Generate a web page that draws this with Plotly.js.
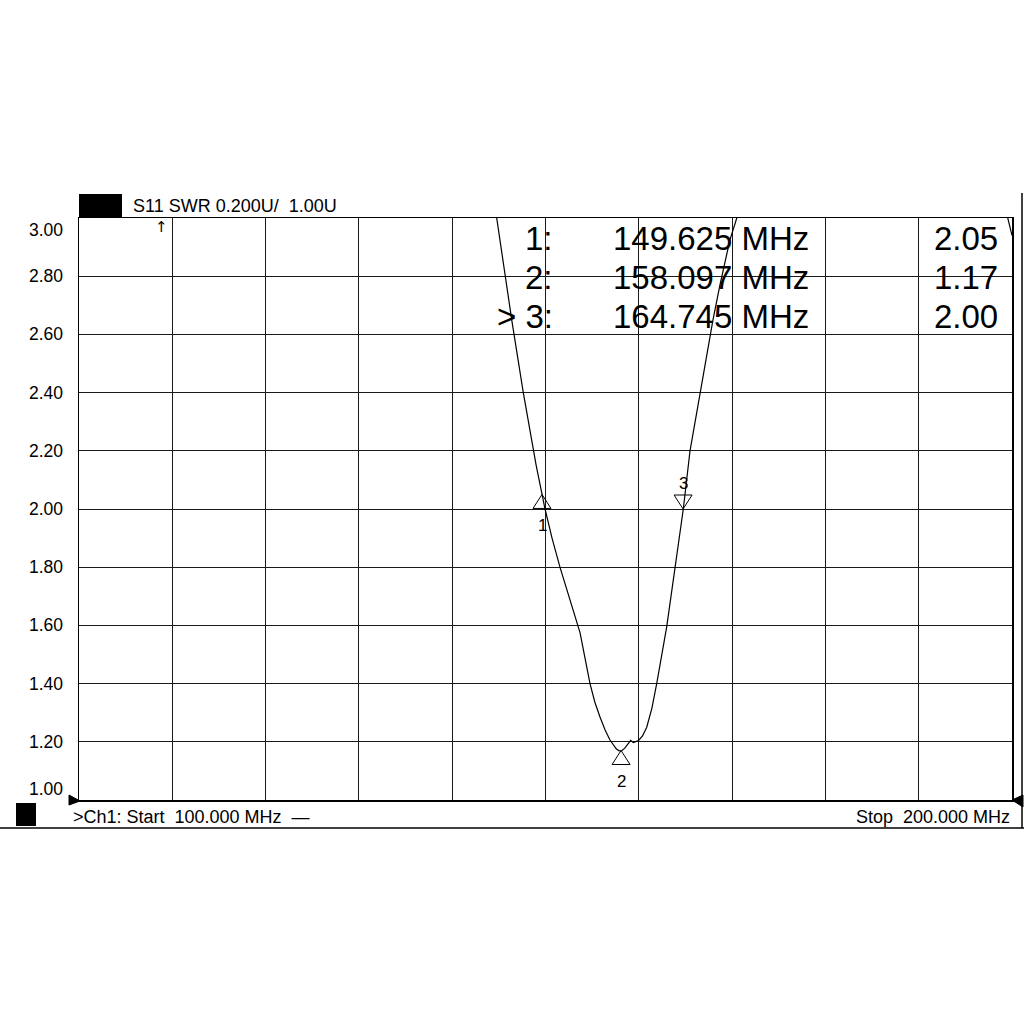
<!DOCTYPE html>
<html>
<head>
<meta charset="utf-8">
<script src="https://cdn.plot.ly/plotly-3.0.1.min.js"></script>
<style>html,body{margin:0;padding:0;background:#fff;}#chart{width:1024px;height:1024px;}</style>
</head>
<body>
<div id="chart"></div>
<script>
// ---- data ----
const freqMHz = [100, 110, 120, 130, 140, 143, 144.77, 146.38, 147.62, 149.0, 149.95, 150.7, 151.55, 152.5, 152.98, 153.70, 154.77, 155.3, 155.84, 156.4, 156.91, 157.3, 157.6, 157.9, 158.2, 158.5, 158.8, 159.13, 159.41, 159.95, 160.4, 160.85, 161.4, 161.92, 162.99, 163.88, 164.77, 165.49, 166.56, 167.34, 167.95, 168.7, 169.77, 170.5, 172, 175, 180, 185, 190, 195, 199.6, 200];
const swr     = [11.0, 10.0, 9.0, 7.0, 4.3, 3.45, 3.00, 2.65, 2.40, 2.15, 2.00, 1.90, 1.80, 1.70, 1.65, 1.575, 1.40, 1.335, 1.285, 1.24, 1.206, 1.187, 1.175, 1.169, 1.170, 1.178, 1.19, 1.205, 1.197, 1.204, 1.22, 1.25, 1.315, 1.40, 1.595, 1.80, 2.00, 2.20, 2.40, 2.535, 2.65, 2.77, 2.925, 3.00, 3.35, 3.9, 4.6, 4.8, 4.4, 3.6, 3.00, 2.94];

const markerIds   = ['1', '2', '3'];
const markerFreq  = [149.625, 158.097, 164.745];
const markerSwr   = [2.05, 1.17, 2.00];
const markerDir   = ['up', 'up', 'down'];
const markerFreqText = ['149.625', '158.097', '164.745'];
const markerValText  = ['2.05', '1.17', '2.00'];
const markerPrefix   = ['1:', '2:', '>\u00a03:'];

const yTickVals = [1.0, 1.2, 1.4, 1.6, 1.8, 2.0, 2.2, 2.4, 2.6, 2.8, 3.0];
const yTickText = ['1.00', '1.20', '1.40', '1.60', '1.80', '2.00', '2.20', '2.40', '2.60', '2.80', '3.00'];

const headerText = 'S11 SWR 0.200U/\u00a0\u00a01.00U';
const startText = '>Ch1: Start\u00a0\u00a0100.000 MHz\u00a0\u00a0\u2014';
const stopText = 'Stop\u00a0\u00a0200.000 MHz';

// ---- build ----
const FONT = 'Liberation Sans, Arial, sans-serif';
const ink = '#000';

const trace = {
  x: freqMHz, y: swr, type: 'scatter', mode: 'lines',
  line: {color: ink, width: 1.2}, hoverinfo: 'skip', showlegend: false
};

const annotations = [];
const shapes = [];

// y tick labels
yTickVals.forEach((v, i) => {
  let ys = 0;
  if (i === yTickVals.length - 1) ys = -12;
  if (i === 0) ys = 11;
  annotations.push({
    xref: 'paper', yref: 'y', x: 0, y: v, xanchor: 'right', yanchor: 'middle',
    xshift: -14, yshift: ys, text: yTickText[i], showarrow: false,
    font: {family: FONT, size: 17.5, color: ink}
  });
});

// header
shapes.push({type: 'rect', xref: 'paper', yref: 'paper', xsizemode: 'pixel', ysizemode: 'pixel',
  xanchor: 0, yanchor: 1, x0: 0, x1: 43, y0: 0, y1: 24, fillcolor: ink, line: {width: 0}});
annotations.push({xref: 'paper', yref: 'paper', x: 0, y: 1, xanchor: 'left', yanchor: 'middle',
  xshift: 52, yshift: 12, text: headerText, showarrow: false, font: {family: FONT, size: 18, color: ink}});

// footer
shapes.push({type: 'rect', xref: 'paper', yref: 'paper', xsizemode: 'pixel', ysizemode: 'pixel',
  xanchor: 0, yanchor: 0, x0: -63, x1: -43, y0: -3, y1: -26, fillcolor: ink, line: {width: 0}});
annotations.push({xref: 'paper', yref: 'paper', x: 0, y: 0, xanchor: 'left', yanchor: 'middle',
  xshift: -8, yshift: -17, text: startText, showarrow: false, font: {family: FONT, size: 18, color: ink}});
annotations.push({xref: 'paper', yref: 'paper', x: 1, y: 0, xanchor: 'right', yanchor: 'middle',
  xshift: 0, yshift: -17, text: stopText, showarrow: false, font: {family: FONT, size: 18, color: ink}});

// reference-level triangles
shapes.push({type: 'path', xref: 'paper', yref: 'paper', xsizemode: 'pixel', ysizemode: 'pixel',
  xanchor: 0, yanchor: 0, path: 'M1,-1L-10,5L-10,-5Z', fillcolor: ink, line: {color: ink, width: 1}});
shapes.push({type: 'path', xref: 'paper', yref: 'paper', xsizemode: 'pixel', ysizemode: 'pixel',
  xanchor: 1, yanchor: 0, path: 'M0,0L11,5L11,-7Z', fillcolor: ink, line: {color: ink, width: 1}});

// outer frame lines
shapes.push({type: 'line', xref: 'paper', yref: 'paper', xsizemode: 'pixel', ysizemode: 'pixel',
  xanchor: 0, yanchor: 0, x0: -79, x1: 945, y0: -28, y1: -28, line: {color: ink, width: 1.5}});
shapes.push({type: 'line', xref: 'paper', yref: 'paper', xsizemode: 'pixel', ysizemode: 'pixel',
  xanchor: 1, yanchor: 0, x0: 10, x1: 10, y0: -28, y1: 607, line: {color: ink, width: 1.5}});

// off-scale arrow
annotations.push({xref: 'x', yref: 'paper', x: 108.8, y: 1, xanchor: 'center', yanchor: 'top',
  yshift: 2, text: '\u2191', showarrow: false, font: {family: 'DejaVu Sans', size: 15, color: ink}});

// markers
const rowShift = [-20, -59, -98];
markerIds.forEach((id, i) => {
  const up = markerDir[i] === 'up';
  shapes.push({type: 'path', xref: 'x', yref: 'y', xsizemode: 'pixel', ysizemode: 'pixel',
    xanchor: markerFreq[i], yanchor: markerSwr[i],
    path: up ? 'M0,0L-9,-14L9,-14Z' : 'M0,0L-9,14L9,14Z',
    line: {color: ink, width: 1}, fillcolor: 'rgba(0,0,0,0)'});
  annotations.push({xref: 'x', yref: 'y', x: markerFreq[i], y: markerSwr[i], xanchor: 'center', yanchor: 'middle',
    yshift: up ? -31 : 26, text: id, showarrow: false, font: {family: FONT, size: 17, color: ink}});
  // readout
  annotations.push({xref: 'paper', yref: 'paper', x: 0, y: 1, xanchor: 'right', yanchor: 'middle',
    xshift: 476, yshift: rowShift[i], text: markerPrefix[i], showarrow: false, font: {family: FONT, size: 33, color: ink}});
  annotations.push({xref: 'paper', yref: 'paper', x: 0, y: 1, xanchor: 'left', yanchor: 'middle',
    xshift: 532, yshift: rowShift[i], text: markerFreqText[i] + ' MHz', showarrow: false, font: {family: FONT, size: 33, color: ink}});
  annotations.push({xref: 'paper', yref: 'paper', x: 1, y: 1, xanchor: 'right', yanchor: 'middle',
    xshift: -12, yshift: rowShift[i], text: markerValText[i], showarrow: false, font: {family: FONT, size: 33, color: ink}});
});

const axisCommon = {
  showgrid: true, gridcolor: '#1a1a1a', gridwidth: 1, zeroline: false,
  showline: true, linecolor: ink, linewidth: 1.5, mirror: true, ticks: '', showticklabels: false, fixedrange: true
};

const layout = {
  width: 1024, height: 1024,
  margin: {l: 79, r: 12, t: 218, b: 224, pad: 0},
  paper_bgcolor: '#fff', plot_bgcolor: '#fff',
  showlegend: false,
  xaxis: Object.assign({range: [100, 200], tick0: 100, dtick: 10}, axisCommon),
  yaxis: Object.assign({range: [1, 3], tick0: 1, dtick: 0.2}, axisCommon),
  annotations: annotations,
  shapes: shapes
};

Plotly.newPlot('chart', [trace], layout, {displayModeBar: false, staticPlot: true});
</script>
</body>
</html>
